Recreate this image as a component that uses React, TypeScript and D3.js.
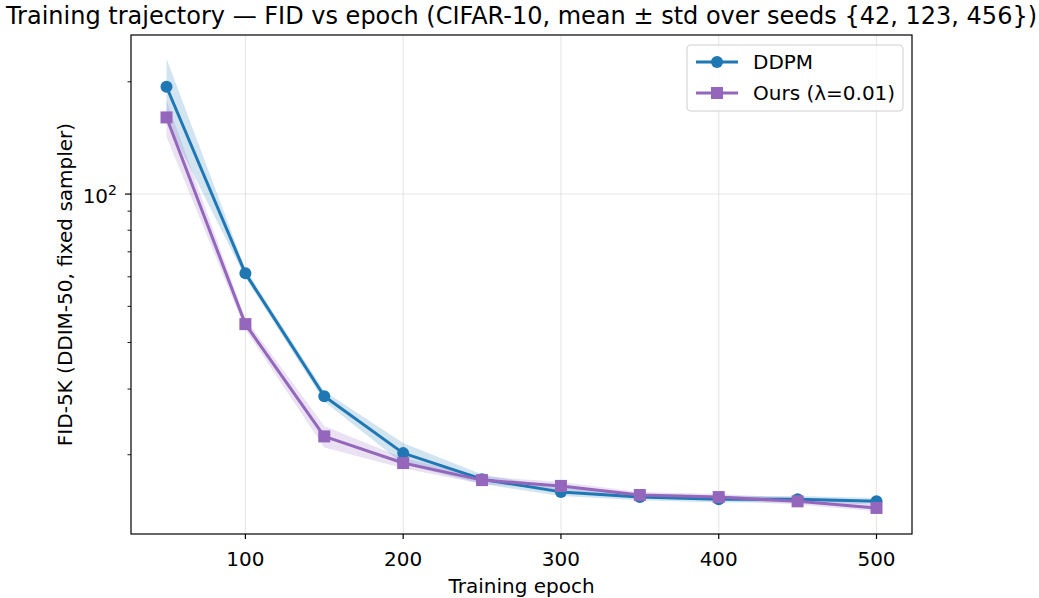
import React from "react";
import * as d3 from "d3";

const epochs = [50, 100, 150, 200, 250, 300, 350, 400, 450, 500];
const ddpmMean = [194, 61.3, 28.7, 20.2, 17.2, 15.9, 15.4, 15.2, 15.2, 15.0];
const ddpmStd = [37, 1.6, 0.9, 1.3, 0.5, 0.4, 0.3, 0.3, 0.3, 0.3];
const oursMean = [160.5, 44.8, 22.4, 19.0, 17.1, 16.5, 15.6, 15.4, 15.0, 14.4];
const oursStd = [18, 1.5, 1.5, 0.6, 0.4, 0.4, 0.3, 0.3, 0.3, 0.3];
const xTicks = [100, 200, 300, 400, 500];
const yMinorTicks = [20, 30, 40, 50, 60, 70, 80, 90, 200];
const seriesNames = ["DDPM", "Ours (λ=0.01)"];
const colors = ["#1f77b4", "#9467bd"];

const W = 1039, H = 598;
const L = 131, R = 912, T = 35, B = 534;
const FONT = "DejaVu Sans, sans-serif";

export default function App() {
  const x = d3.scaleLinear().domain([27.5, 522.5]).range([L, R]);
  const y = d3.scaleLog().domain([12.26, 267]).range([B, T]);
  const line = d3.line<number>().x((_, i) => x(epochs[i])).y((v) => y(v));
  const band = (m: number[], s: number[]) =>
    d3.area<number>()
      .x((_, i) => x(epochs[i]))
      .y0((v, i) => y(v - s[i]))
      .y1((v, i) => y(v + s[i]))(m) as string;

  const series = [
    { mean: ddpmMean, std: ddpmStd, color: colors[0], marker: "circle" },
    { mean: oursMean, std: oursStd, color: colors[1], marker: "square" },
  ];

  const marker = (kind: string, cx: number, cy: number, color: string, key: any) =>
    kind === "circle" ? (
      <circle key={key} cx={cx} cy={cy} r={6} fill={color} />
    ) : (
      <rect key={key} x={cx - 6} y={cy - 6} width={12} height={12} fill={color} />
    );

  return (
    <svg width={W} height={H} style={{ position: "absolute", left: 0, top: 0, background: "#fff" }} fontFamily={FONT}>
      <rect x={0} y={0} width={W} height={H} fill="#fff" />
      <defs>
        <clipPath id="plot"><rect x={L} y={T} width={R - L} height={B - T} /></clipPath>
      </defs>
      {/* grid */}
      {xTicks.map((t) => (
        <line key={"gx" + t} x1={x(t)} x2={x(t)} y1={T} y2={B} stroke="#b0b0b0" strokeOpacity={0.3} strokeWidth={1.1} />
      ))}
      <line x1={L} x2={R} y1={y(100)} y2={y(100)} stroke="#b0b0b0" strokeOpacity={0.3} strokeWidth={1.1} />
      <g clipPath="url(#plot)">
        {series.map((s, k) => (
          <path key={"b" + k} d={band(s.mean, s.std)} fill={s.color} fillOpacity={0.2} />
        ))}
        {series.map((s, k) => (
          <g key={"l" + k}>
            <path d={line(s.mean) as string} fill="none" stroke={s.color} strokeWidth={3} strokeLinejoin="round" />
            {s.mean.map((v, i) => marker(s.marker, x(epochs[i]), y(v), s.color, i))}
          </g>
        ))}
      </g>
      {/* spines */}
      <rect x={L} y={T} width={R - L} height={B - T} fill="none" stroke="#000" strokeWidth={1.2} />
      {/* x ticks */}
      {xTicks.map((t) => (
        <g key={"xt" + t}>
          <line x1={x(t)} x2={x(t)} y1={B} y2={B + 5} stroke="#000" strokeWidth={1.2} />
          <text x={x(t)} y={565.5} fontSize={20} textAnchor="middle" fill="#000">{t}</text>
        </g>
      ))}
      {/* y ticks */}
      <line x1={L - 6} x2={L} y1={y(100)} y2={y(100)} stroke="#000" strokeWidth={1.2} />
      {yMinorTicks.map((t) => (
        <line key={"ym" + t} x1={L - 3.5} x2={L} y1={y(t)} y2={y(t)} stroke="#000" strokeWidth={0.9} />
      ))}
      <text x={L - 14} y={y(100) + 9} fontSize={20} textAnchor="end" fill="#000">
        10<tspan dy={-8} fontSize={14}>2</tspan>
      </text>
      {/* labels */}
      <text x={(L + R) / 2} y={593} fontSize={20} textAnchor="middle" fill="#000">Training epoch</text>
      <text transform={`translate(72,${(T + B) / 2}) rotate(-90)`} fontSize={20} textAnchor="middle" fill="#000">
        FID-5K (DDIM-50, fixed sampler)
      </text>
      <text x={(L + R) / 2} y={24} fontSize={24} textAnchor="middle" fill="#000">
        Training trajectory — FID vs epoch (CIFAR-10, mean ± std over seeds {"{42, 123, 456}"})
      </text>
      {/* legend */}
      <rect x={687} y={45} width={216} height={66} rx={4} fill="#fff" fillOpacity={0.8} stroke="#d0d0d0" strokeWidth={1.1} />
      {series.map((s, k) => {
        const ly = 62 + k * 31;
        return (
          <g key={"lg" + k}>
            <line x1={696} x2={738} y1={ly} y2={ly} stroke={s.color} strokeWidth={3} />
            {marker(s.marker, 717, ly, s.color, "m")}
            <text x={753} y={ly + 7} fontSize={20} fill="#000">{seriesNames[k]}</text>
          </g>
        );
      })}
    </svg>
  );
}
